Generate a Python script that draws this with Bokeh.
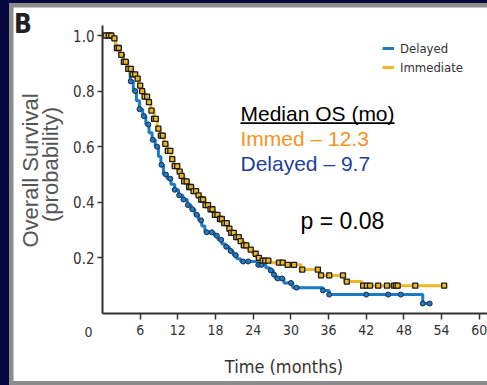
import numpy as np
from bokeh.plotting import figure
from bokeh.models import Range1d, FixedTicker, Label, Legend, LegendItem, BoxAnnotation
from bokeh.layouts import column
from bokeh.embed import file_html
from bokeh.resources import INLINE

# ---------------- data ----------------
# Kaplan-Meier step points: Immediate arm
imm_t = [0, 1.7, 2.1, 2.7, 3.3, 4.0, 4.6, 5.3, 5.8, 6.2, 6.7, 7.2, 7.7, 8.2, 8.7,
         9.2, 9.8, 10.4, 10.9, 11.4, 12.0, 12.4, 13.0, 13.7, 14.4, 15.0, 15.7, 16.4,
         17.1, 17.8, 18.5, 19.2, 19.9, 20.5, 21.1, 21.8, 22.5, 23.2, 23.9, 24.6,
         25.3, 26.8, 29.0, 31.6, 34.6, 38.5, 41.3, 54.4]
imm_s = [1.0, 0.99, 0.955, 0.93, 0.905, 0.88, 0.86, 0.845, 0.82, 0.80, 0.78, 0.76,
         0.73, 0.70, 0.665, 0.64, 0.61, 0.585, 0.555, 0.53, 0.51, 0.495, 0.475, 0.455,
         0.44, 0.425, 0.41, 0.39, 0.375, 0.355, 0.34, 0.325, 0.305, 0.29, 0.275, 0.26,
         0.245, 0.23, 0.215, 0.20, 0.19, 0.183, 0.175, 0.158, 0.137, 0.115, 0.10, 0.10]
# Kaplan-Meier step points: Delayed arm
del_t = [0, 1.7, 2.1, 2.7, 3.3, 3.9, 4.4, 4.9, 5.4, 5.9, 6.4, 6.9, 7.4, 7.9, 8.4,
         8.9, 9.3, 9.7, 10.3, 10.9, 11.5, 12.1, 12.8, 13.5, 14.1, 14.7, 15.3, 15.8,
         16.3, 17.8, 18.4, 19.0, 19.6, 20.2, 20.8, 21.4, 22.0, 24.7, 26.0, 26.6,
         27.2, 27.5, 28.9, 30.3, 35.1, 36.1, 51.0, 52.3]
del_s = [1.0, 0.99, 0.955, 0.93, 0.905, 0.875, 0.835, 0.80, 0.765, 0.735, 0.71, 0.68,
         0.65, 0.625, 0.60, 0.565, 0.535, 0.50, 0.485, 0.465, 0.445, 0.425, 0.41, 0.39,
         0.375, 0.355, 0.335, 0.315, 0.292, 0.28, 0.265, 0.25, 0.24, 0.225, 0.21, 0.197,
         0.187, 0.175, 0.165, 0.155, 0.14, 0.126, 0.11, 0.093, 0.083, 0.068, 0.036, 0.036]
# censoring times (months)
imm_censor = [0.5, 1.0, 1.4, 1.9, 2.3, 2.6, 3.0, 3.4, 3.7, 4.1, 4.5, 4.8, 5.2, 5.6, 6.0,
              6.3, 6.7, 7.1, 7.4, 7.8, 8.2, 8.5, 8.9, 9.3, 9.6, 10.0, 10.4, 10.8, 11.1,
              11.5, 11.9, 12.3, 12.6, 13.0, 13.4, 13.8, 14.1, 14.5, 14.9, 15.3, 15.7,
              16.0, 16.4, 16.8, 17.2, 17.5, 17.9, 18.3, 18.7, 19.0, 19.4, 19.8, 20.2,
              20.5, 20.9, 21.3, 21.7, 22.0, 22.5, 22.9, 23.6, 24.4, 24.9, 25.5, 25.9,
              26.4, 28.1, 28.7, 29.5, 30.5, 31.8, 34.3, 34.8, 36.1, 38.3, 38.9, 41.5,
              42.1, 42.6, 43.9, 45.3, 46.4, 46.7, 47.0, 49.8, 54.4]
del_censor = [0.6, 1.2, 1.8, 2.5, 3.1, 3.8, 4.5, 5.2, 5.9, 6.6, 7.3, 8.0, 8.7, 9.4,
              10.1, 10.8, 11.5, 12.2, 12.9, 13.6, 14.3, 15.0, 15.7, 16.6, 17.4, 18.2,
              18.9, 19.7, 20.4, 21.2, 22.4, 23.2, 24.8, 25.3, 26.8, 27.3, 27.9, 28.6,
              30.0, 30.9, 35.1, 36.1, 42.0, 45.5, 47.5, 51.0, 52.1]
x_ticks = [6, 12, 18, 24, 30, 36, 42, 48, 54, 60]
y_ticks = [0.2, 0.4, 0.6, 0.8, 1.0]
y_tick_labels = ["0.2", "0.4", "0.6", "0.8", "1.0"]
legend_labels = ["Delayed", "Immediate"]
median_title = "Median OS (mo)"
median_imm = "Immed \u2013 12.3"
median_del = "Delayed \u2013 9.7"
p_text = "p = 0.08"


def km_at(times, surv, q):
    idx = np.searchsorted(np.asarray(times), np.asarray(q), side="right") - 1
    return np.asarray(surv)[np.clip(idx, 0, len(surv) - 1)]


# ---------------- styling ----------------
NARROW = "Liberation Sans Narrow, DejaVu Sans Condensed, sans-serif"
REG = "Liberation Sans, Arial, sans-serif"
YEL = "#EDB823"
BLU = "#1B7CC4"
AX = "#333333"

# canvas: white panel at page offset (13, 7), 474 x 374
OX, OY = 13, 7
W, H = 474, 374
X0, Y0 = 102, 313          # page position of (t=0, S=0)
XS, YS = 6.28, 278.0       # px per month, px per unit survival
XAX_END = (OX + W - X0) / XS
YAX_END = (Y0 - 25) / YS

def dx(px):
    return (px - X0) / XS
def dy(py):
    return (Y0 - py) / YS

p = figure(width=W, height=H,
           x_range=Range1d(dx(OX), dx(OX + W)), y_range=Range1d(dy(OY + H), dy(OY)),
           output_backend="svg", toolbar_location=None,
           min_border_left=0, min_border_right=0, min_border_top=0, min_border_bottom=0)
p.grid.visible = False
p.outline_line_color = None
p.background_fill_color = "white"
p.border_fill_color = "white"

for ax in (p.xaxis[0], p.yaxis[0]):
    ax.fixed_location = 0
    ax.axis_line_color = AX
    ax.axis_line_width = 2
    ax.major_tick_line_color = AX
    ax.major_tick_line_width = 1.5
    ax.major_tick_in = 0
    ax.minor_tick_line_color = None
    ax.major_label_text_color = AX
    ax.major_label_text_font = NARROW

p.xaxis.bounds = (0, XAX_END)
p.xaxis.ticker = FixedTicker(ticks=x_ticks)
p.xaxis.major_tick_out = 6
p.xaxis.major_label_standoff = 5
p.xaxis.major_label_text_font_size = "14px"
p.yaxis.bounds = (0, YAX_END)
p.yaxis.ticker = FixedTicker(ticks=y_ticks)
p.yaxis.major_label_overrides = {t: s for t, s in zip(y_ticks, y_tick_labels)}
p.yaxis.major_tick_out = 5
p.yaxis.major_label_standoff = 3
p.yaxis.major_label_text_font_size = "15px"

# curves
r_del = p.step(del_t, del_s, mode="after", line_color=BLU, line_width=3)
r_imm = p.step(imm_t, imm_s, mode="after", line_color=YEL, line_width=3)
p.scatter(del_censor, km_at(del_t, del_s, del_censor), marker="circle", size=5,
          fill_color=BLU, line_color="#1c2a48", line_width=1)
p.scatter(imm_censor, km_at(imm_t, imm_s, imm_censor), marker="square", size=5,
          fill_color=YEL, line_color="#1a1a1a", line_width=1.3)

legend = Legend(items=[LegendItem(label=legend_labels[0], renderers=[r_del]),
                       LegendItem(label=legend_labels[1], renderers=[r_imm])],
                location=(382 - OX, OY + H - 75), orientation="vertical",
                glyph_width=12, glyph_height=16, label_height=16, spacing=3,
                padding=0, margin=0, label_standoff=6,
                label_text_font=NARROW, label_text_font_size="13px",
                label_text_color=AX, border_line_alpha=0, background_fill_alpha=0)
p.add_layout(legend)

def lab(text, x, y, size, color="black", font=REG, align="left", angle=0, style="normal"):
    p.add_layout(Label(x=x, y=y, text=text, text_font=font, text_font_size=size,
                       text_color=color, text_align=align, text_baseline="middle",
                       angle=angle, text_font_style=style))

lab(median_title, dx(240), dy(113), "21px")
p.add_layout(BoxAnnotation(left=dx(240), right=dx(394), bottom=dy(123.5), top=dy(121.8),
                           fill_color="black", fill_alpha=1, line_alpha=0))
lab(median_imm, dx(240), dy(138), "21px", color="#F7931E")
lab(median_del, dx(240), dy(163), "21px", color="#1D3F9B")
lab(p_text, dx(300), dy(220), "23px")

lab("0", dx(88), dy(331), "14px", color=AX, font=NARROW, align="center")
lab("Time (months)", dx(283.5), dy(366), "18px", color=AX, font=NARROW, align="center")
lab("Overall Survival", dx(30), dy(170), "22px", color="#555555", align="center",
    angle=np.pi / 2)
lab("(probability)", dx(50), dy(164), "22px", color="#555555", align="center",
    angle=np.pi / 2)
lab("B", dx(22.5), dy(23), "26px", color="#222222", font=NARROW, align="center",
    style="bold")

inner = column(p, styles={"background-color": "#8c8c8c", "padding-left": "4px",
                          "padding-top": "4px", "padding-bottom": "4px"})
lay = column(inner, styles={"background-color": "#07073f", "padding-left": "9px",
                            "padding-top": "3px"})

open("out.html", "w").write(file_html(lay, INLINE))
